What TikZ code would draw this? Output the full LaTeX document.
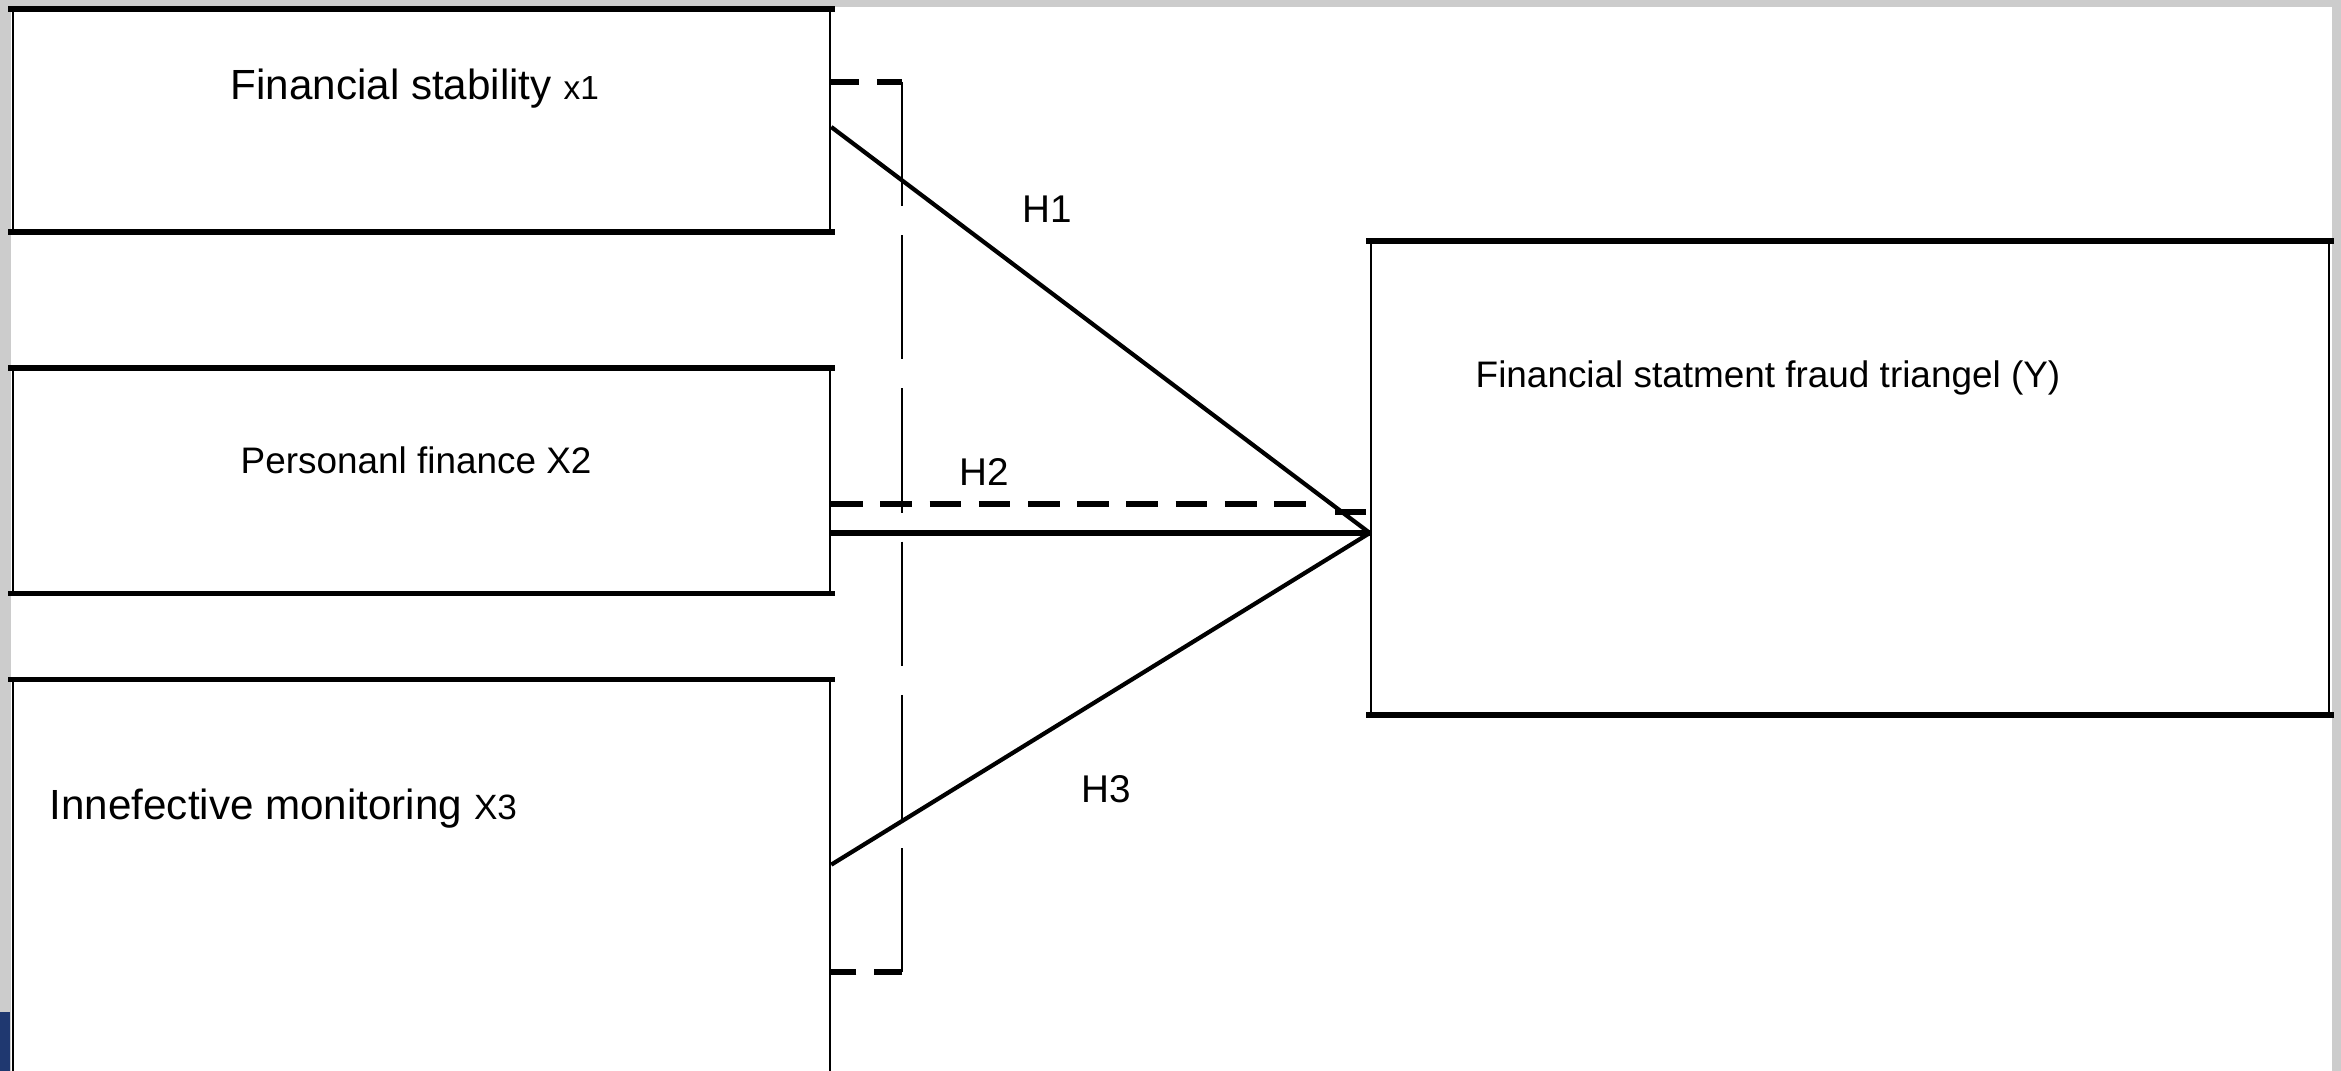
\documentclass[tikz,border=0pt]{standalone}
\usepackage{fontspec}
\setmainfont{Liberation Sans}
\usetikzlibrary{positioning, calc}
\definecolor{framegray}{rgb}{0.80,0.80,0.80}
\definecolor{edgenavy}{rgb}{0.12,0.22,0.44}

\begin{document}
\begin{tikzpicture}[
    varbox/.style={draw, line width=0.7pt, inner sep=0pt},
    rim/.style={line width=1.6pt},
    hyp/.style={line width=1.2pt},
    dashln/.style={line width=1.5pt, dash pattern=on 8pt off 5pt},
    bracketln/.style={line width=0.7pt, dash pattern=on 35.3pt off 8.3pt},
    lbl/.style={inner sep=0pt}
]
\useasboundingbox (0,0) rectangle (23.41,10.71);
\clip (0,0) rectangle (23.41,10.71);

% window frame round the screenshot
\fill[framegray] (0,10.64) rectangle (23.41,10.71);
\fill[framegray] (0,0) rectangle (0.11,10.71);
\fill[edgenavy] (0,0) rectangle (0.10,0.59);
\fill[framegray] (23.32,0) rectangle (23.41,10.71);

% Variable boxes
\node[varbox, minimum width=8.17cm, minimum height=2.21cm] (x1) at (4.215,9.505) {};
\node[varbox, minimum width=8.17cm, minimum height=2.23cm, below=1.36cm of x1] (x2) {};
\node[varbox, minimum width=8.17cm, minimum height=4.45cm, below=0.86cm of x2] (x3) {};
\node[varbox, minimum width=9.58cm, minimum height=4.72cm] (y) at (18.50,5.93) {};

% heavy top and bottom edges
\foreach \b in {x1,x2,x3,y}{
    \draw[rim] ([xshift=-1pt]\b.north west) -- ([xshift=1pt]\b.north east);
    \draw[rim] ([xshift=-1pt]\b.south west) -- ([xshift=1pt]\b.south east);
}

% Box texts
\node[lbl, anchor=base west, font=\fontsize{12}{14}\selectfont] (t1) at (2.30,9.71) {Financial stability {\fontsize{9.5}{11}\selectfont x1}};
\node[lbl, anchor=base west, font=\fontsize{10.5}{12}\selectfont] (t2) at (2.40,5.97) {Personanl finance X2};
\node[lbl, anchor=base west, font=\fontsize{12}{14}\selectfont] (t3) at (0.49,2.51) {Innefective monitoring {\fontsize{10}{12}\selectfont X3}};
\node[lbl, anchor=base west, font=\fontsize{10.5}{12}\selectfont] (ty) at (14.75,6.83) {Financial statment fraud triangel (Y)};

% Hypotheses
\coordinate (join) at ([yshift=-0.55cm]y.west);
\draw[hyp] ([yshift=-0.065cm]x1.east) -- (join);
\draw[hyp, line width=1.5pt] (x2.east |- join) -- (join);
\draw[hyp] ([yshift=-1.85cm]x3.north east) -- (join);

\node[lbl, anchor=base, font=\fontsize{11}{13}\selectfont] (h1) at (10.47,8.48) {H1};
\node[lbl, anchor=base, font=\fontsize{11}{13}\selectfont] (h2) at (9.84,5.85) {H2};
\node[lbl, anchor=base, font=\fontsize{11}{13}\selectfont] (h3) at (11.06,2.68) {H3};

% Dashed bracket
\coordinate (brtop) at (9.02,9.89);
\coordinate (brbot) at (9.02,0.99);
\coordinate (mid) at (13.15,5.67);
\draw[dashln] (x1.east |- brtop) -- (brtop);
\draw[bracketln] (brtop) -- (brbot);
\draw[dashln] (brbot) -- (x3.east |- brbot);
\draw[dashln, dash pattern=on 9pt off 5pt] (x2.east |- mid) -- (mid);
\draw[rim] (13.35,5.59) -- ([xshift=-0.04cm]y.west |- 13.35,5.59);

\end{tikzpicture}
\end{document}
